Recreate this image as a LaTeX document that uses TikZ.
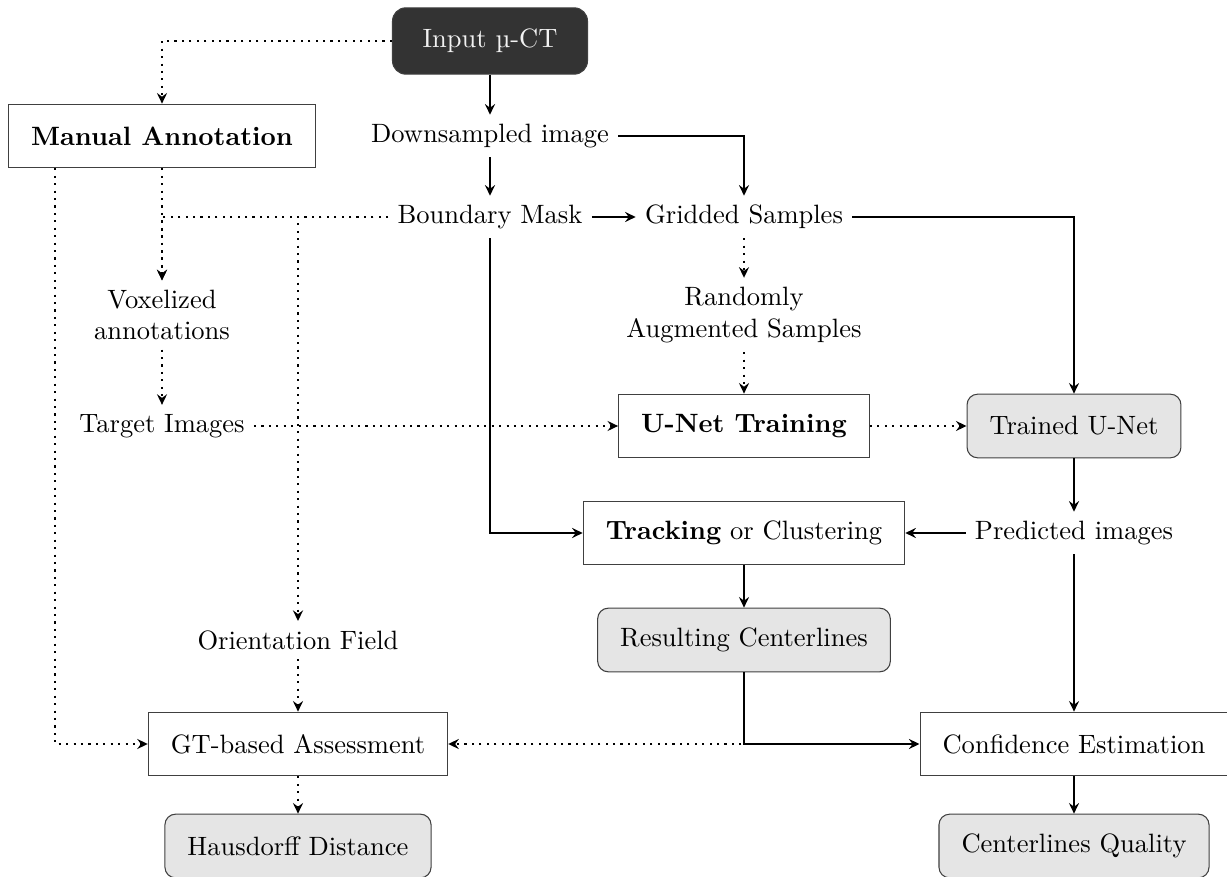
\documentclass[tikz,border=0pt]{standalone}
\usetikzlibrary{calc,arrows.meta}
\begin{document}
\begin{tikzpicture}[x=0.377pt,y=-0.377pt,
  >={Stealth[length=4pt,width=3.8pt,inset=1.4pt]},
  box/.style={draw=black!75, minimum height=24pt, inner xsep=8.5pt},
  rbox/.style={box, rounded corners=4pt, fill=black!10},
  dbox/.style={draw=black!75, rounded corners=5pt, fill=black!80, text=black!5, minimum height=25pt, minimum width=73.5pt},
  plain/.style={align=center},
  sol/.style={thick,->},
  dot/.style={thick,dotted,->}]
\useasboundingbox (0,0) rectangle (1227,877);
\node[dbox] (inp) at (490,41) {Input µ-CT};
\node[box] (man) at (162,136) {\textbf{Manual Annotation}};
\node[plain] (down) at (490,136) {Downsampled image};
\node[plain] (bm) at (490,217) {Boundary Mask};
\node[plain] (grid) at (744,217) {Gridded Samples};
\node[plain] (vox) at (162,315) {Voxelized\\annotations};
\node[plain] (rand) at (744,315) {Randomly\\Augmented Samples};
\node[plain] (targ) at (162,426) {Target Images};
\node[box] (unet) at (744,426) {\textbf{U-Net Training}};
\node[rbox] (trained) at (1074,426) {Trained U-Net};
\node[box] (track) at (744,533) {\textbf{Tracking} or Clustering};
\node[plain] (pred) at (1074,533) {Predicted images};
\node[plain] (orient) at (298,640) {Orientation Field};
\node[rbox] (res) at (744,640) {Resulting Centerlines};
\node[box] (gt) at (298,744) {GT-based Assessment};
\node[box] (conf) at (1074,744) {Confidence Estimation};
\node[rbox] (haus) at (298,846) {Hausdorff Distance};
\node[rbox] (cq) at (1074,846) {Centerlines Quality};
% solid connectors
\draw[sol] (inp) -- (down);
\draw[sol] (down) -- (bm);
\draw[sol] (down.east) -| (grid.north);
\draw[sol] (bm) -- (grid);
\draw[sol] (grid.east) -| (trained.north);
\draw[sol] (bm.south) |- (track.west);
\draw[sol] (trained) -- (pred);
\draw[sol] (pred) -- (track);
\draw[sol] (track) -- (res);
\draw[sol] (pred) -- (conf);
\draw[sol] (conf) -- (cq);
% dotted connectors
\draw[dot] (inp.west) -| (man.north);
\draw[dot] (man.south) -- (vox.north);
\draw[dot] (bm.west) -| (vox.north);
\draw[dot] (bm.west) -| (orient.north);
\draw[dot] (vox) -- (targ);
\draw[dot] (targ) -- (unet);
\draw[dot] (grid) -- (rand);
\draw[dot] (rand) -- (unet);
\draw[dot] (unet) -- (trained);
\draw[dot] ([xshift=17.7pt]man.south west) |- (gt.west);
\draw[dot] (orient) -- (gt);
\draw[dot] (gt) -- (haus);
\draw[dot] (res.south) |- (gt.east);
\draw[sol] (res.south) |- (conf.west);
\end{tikzpicture}
\end{document}
